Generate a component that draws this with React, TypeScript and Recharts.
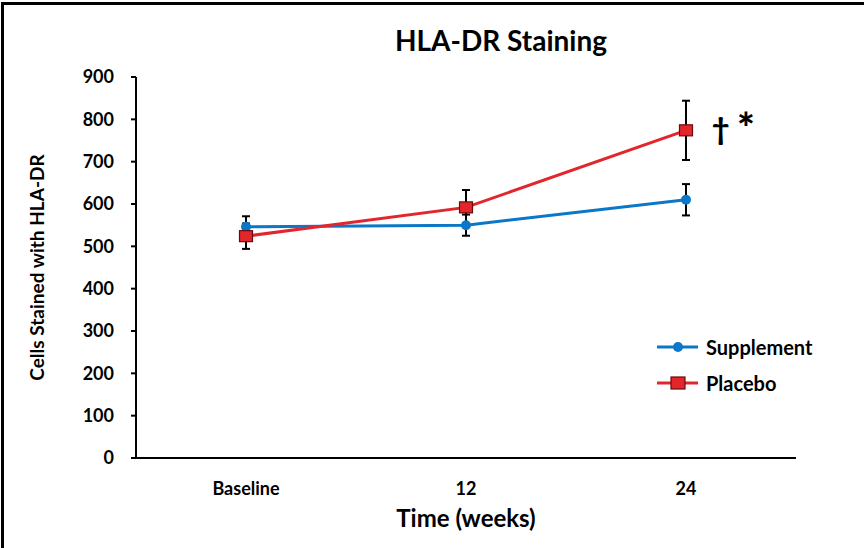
import React from 'react';
import { LineChart, Line, XAxis, YAxis, ErrorBar, LabelList } from 'recharts';

const categories = ['Baseline', '12', '24'];
const supplementMean = [546, 550, 610];
const supplementErr = [25, 25, 37];
const placeboMean = [524, 592, 774];
const placeboErr = [30, 41, 70];
const placeboNotes = ['', '', '†*'];
const yTicks = [0, 100, 200, 300, 400, 500, 600, 700, 800, 900];

const BLUE = '#0B77C7';
const RED = '#E3252C';
const FONT = 'Lato, "Open Sans", sans-serif';

const data = categories.map((c, i) => ({
  time: c,
  sup: supplementMean[i],
  supErr: supplementErr[i],
  pla: placeboMean[i],
  plaErr: placeboErr[i],
  note: placeboNotes[i],
}));

const BlueDot = (p: any) => (
  <circle key={`b${p.index}`} cx={p.cx} cy={p.cy} r={5} fill={BLUE} />
);
const RedSquare = (p: any) => (
  <rect
    key={`r${p.index}`}
    x={p.cx - 6.5}
    y={p.cy - 5.5}
    width={13}
    height={11}
    fill={RED}
    stroke="#6b0b0e"
    strokeWidth={1.2}
  />
);

const NoteLabel = (p: any) => {
  if (!p.value) return null;
  const [dagger, star] = [p.value[0], p.value[1]];
  return (
    <g>
      <text x={p.x + 26} y={p.y + 10} fontFamily={FONT} fontWeight={900} fontSize={30} fill="#000">
        {dagger}
      </text>
      <text x={p.x + 51} y={p.y + 13} fontFamily={FONT} fontWeight={900} fontSize={42} fill="#000">
        {star}
      </text>
    </g>
  );
};

const YLabel = (props: any) => {
  const vb = props.viewBox || { x: 0, y: 77, width: 0, height: 381 };
  const cx = 36;
  const cy = vb.y + vb.height / 2;
  return (
    <text
      x={cx}
      y={cy}
      transform={`rotate(-90 ${cx} ${cy})`}
      textAnchor="middle"
      dominantBaseline="central"
      fontFamily={FONT}
      fontWeight={700}
      fontSize={19}
      fill="#000"
    >
      Cells Stained with HLA-DR
    </text>
  );
};

const legendItems = [
  { name: 'Supplement', color: BLUE, shape: 'circle' },
  { name: 'Placebo', color: RED, shape: 'square' },
];

export default function App() {
  return (
    <div style={{ position: 'absolute', left: 0, top: 0, width: 864, height: 548, background: '#fff' }}>
      <LineChart
        width={864}
        height={548}
        data={data}
        margin={{ top: 77, right: 68, bottom: 60, left: 76 }}
      >
        <XAxis
          dataKey="time"
          height={30}
          padding={{ left: 110, right: 110 }}
          stroke="#000"
          strokeWidth={2}
          tickLine={false}
          tickMargin={18}
          tick={{ fill: '#000', fontFamily: FONT, fontWeight: 700, fontSize: 18 }}
          label={{
            value: 'Time (weeks)',
            position: 'bottom',
            offset: 22,
            style: { fill: '#000', fontFamily: FONT, fontWeight: 700, fontSize: 24 },
          }}
        />
        <YAxis
          width={60}
          domain={[0, 900]}
          ticks={yTicks}
          interval={0}
          stroke="#000"
          strokeWidth={2}
          tickSize={5}
          tickMargin={17}
          tick={{ fill: '#000', fontFamily: FONT, fontWeight: 700, fontSize: 18 }}
          label={<YLabel />}
        />
        <Line
          type="linear"
          dataKey="sup"
          name="Supplement"
          stroke={BLUE}
          strokeWidth={3}
          dot={BlueDot}
          activeDot={false}
          isAnimationActive={false}
        >
          <ErrorBar dataKey="supErr" direction="y" width={4} stroke="#000" strokeWidth={2} />
        </Line>
        <Line
          type="linear"
          dataKey="pla"
          name="Placebo"
          stroke={RED}
          strokeWidth={3}
          dot={RedSquare}
          activeDot={false}
          isAnimationActive={false}
        >
          <ErrorBar dataKey="plaErr" direction="y" width={4} stroke="#000" strokeWidth={2} />
          <LabelList dataKey="note" content={NoteLabel} />
        </Line>
      </LineChart>
      <svg
        width={864}
        height={548}
        style={{ position: 'absolute', left: 0, top: 0, pointerEvents: 'none' }}
      >
        <line x1={2.5} y1={2} x2={2.5} y2={548} stroke="#000" strokeWidth={3} />
        <line x1={1} y1={3.5} x2={864} y2={3.5} stroke="#000" strokeWidth={3} />
        <text x={501} y={51} textAnchor="middle" fontFamily={FONT} fontWeight={700} fontSize={28} fill="#000">
          HLA-DR Staining
        </text>
        {legendItems.map((it, i) => {
          const y = 347 + i * 36;
          return (
            <g key={it.name}>
              <line x1={657} y1={y} x2={698} y2={y} stroke={it.color} strokeWidth={3} />
              {it.shape === 'circle' ? (
                <circle cx={678} cy={y} r={5} fill={it.color} />
              ) : (
                <rect x={671} y={y - 6} width={14} height={12} fill={it.color} stroke="#6b0b0e" strokeWidth={1.2} />
              )}
              <text
                x={706}
                y={y}
                dominantBaseline="central"
                fontFamily={FONT}
                fontWeight={700}
                fontSize={20}
                fill="#000"
              >
                {it.name}
              </text>
            </g>
          );
        })}
      </svg>
    </div>
  );
}
